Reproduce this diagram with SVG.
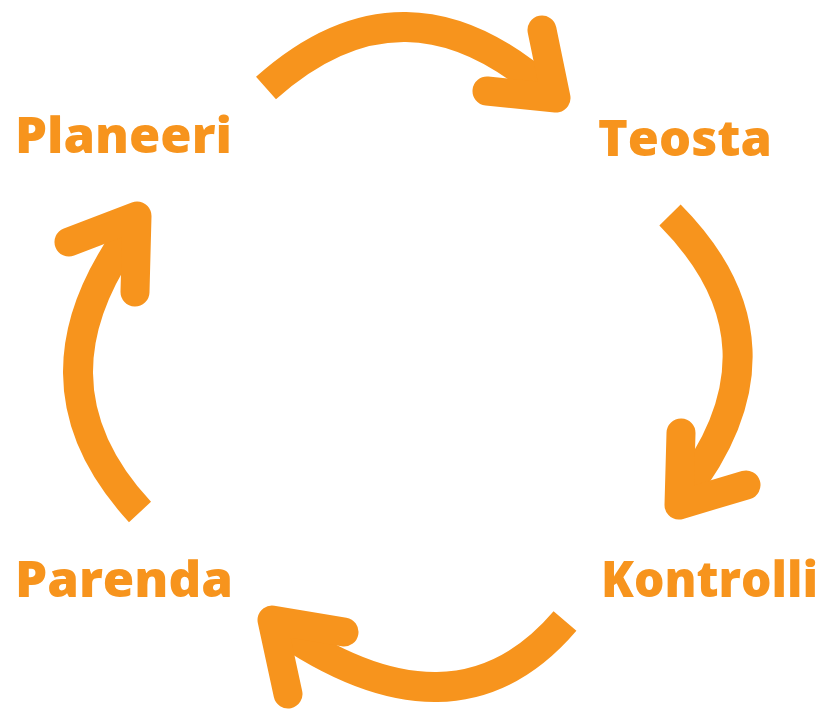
<svg xmlns="http://www.w3.org/2000/svg" width="826" height="709" viewBox="0 0 826 709">
<style>
.shaft{fill:none;stroke:#F7941D;stroke-width:30;stroke-linecap:butt}
.head{fill:none;stroke:#F7941D;stroke-width:29;stroke-linecap:round;stroke-linejoin:round}
.lbl{font-family:"Open Sans","Liberation Sans",sans-serif;font-weight:800;font-size:50px;fill:#F7941D}
</style>
<rect width="826" height="709" fill="#FFFFFF"/>
<g id="connectors">
<g id="arrow-top">
<path class="shaft" d="M266,88 Q405,-36 548,92"/>
<polyline class="head" points="542,30 556,98 487,91"/>
</g>
<g id="arrow-right">
<path class="shaft" d="M670,215 Q799,345 682,495"/>
<polyline class="head" points="681,433 679,505 746,485"/>
</g>
<g id="arrow-bottom">
<path class="shaft" d="M565,621 Q454,751 275,625"/>
<polyline class="head" points="344,632 272,620 288,694"/>
</g>
<g id="arrow-left">
<path class="shaft" d="M140,512 Q17,379 138,222"/>
<polyline class="head" points="69,242 137,216 135,292"/>
</g>
</g>
<g id="node-planeeri"><text class="lbl" x="15" y="153" textLength="217" lengthAdjust="spacingAndGlyphs">Planeeri</text></g>
<g id="node-teosta"><text class="lbl" x="598" y="156" textLength="174" lengthAdjust="spacingAndGlyphs">Teosta</text></g>
<g id="node-kontrolli"><text class="lbl" x="601" y="597" textLength="217" lengthAdjust="spacingAndGlyphs">Kontrolli</text></g>
<g id="node-parenda"><text class="lbl" x="15" y="597" textLength="218" lengthAdjust="spacingAndGlyphs">Parenda</text></g>
</svg>
